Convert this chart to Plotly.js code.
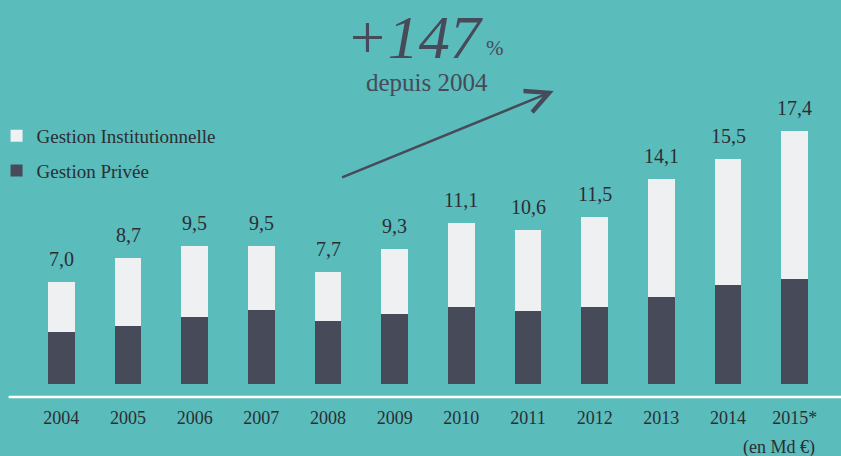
<!DOCTYPE html>
<html>
<head>
<meta charset="utf-8">
<script src="https://cdn.plot.ly/plotly-3.0.1.min.js"></script>
<style>html,body{margin:0;padding:0;background:#5bbcbc;}#chart{width:841px;height:456px;}</style>
</head>
<body>
<div id="chart"></div>
<script>
const years = ["2004","2005","2006","2007","2008","2009","2010","2011","2012","2013","2014","2015*"];
const gestionPrivee = [3.6, 4.0, 4.6, 5.1, 4.3, 4.8, 5.3, 5.0, 5.3, 6.0, 6.8, 7.2];
const gestionInstitutionnelle = [3.4, 4.7, 4.9, 4.4, 3.4, 4.5, 5.8, 5.6, 6.2, 8.1, 8.7, 10.2];
const totals = [7.0, 8.7, 9.5, 9.5, 7.7, 9.3, 11.1, 10.6, 11.5, 14.1, 15.5, 17.4];
const totalLabels = ["7,0","8,7","9,5","9,5","7,7","9,3","11,1","10,6","11,5","14,1","15,5","17,4"];

const SERIF = '"Liberation Serif", "Times New Roman", serif';
const DARK = '#474a58';
const LIGHT = '#eef0f1';
const TXT = '#2b2e33';

const traces = [
  {type:'bar', name:'Gestion Privée', x:years, y:gestionPrivee, marker:{color:DARK, line:{width:0}}, legendgroup:'p', legendrank:2, hoverinfo:'skip'},
  {type:'bar', name:'Gestion Institutionnelle', x:years, y:gestionInstitutionnelle, marker:{color:LIGHT, line:{width:0}}, legendgroup:'i', legendrank:1, hoverinfo:'skip'}
];

const L = 28.4, R = 827.6, T = 20, B = 397;
const px = v => (v - L) / (R - L);
const py = v => (B - v) / (B - T);
const PXU = 14.54;

const annotations = years.map((yr, i) => ({
  x: i, y: totals[i], xref:'x', yref:'y', text: totalLabels[i], showarrow:false,
  yanchor:'bottom', yshift: 10, font:{family:SERIF, size:20, color:TXT}
}));

annotations.push(
  {xref:'paper', yref:'paper', x:px(486), y:py(37), xanchor:'right', yanchor:'middle', showarrow:false,
   text:'<i>+147</i>', font:{family:SERIF, size:62, color:DARK}},
  {xref:'paper', yref:'paper', x:px(484), y:py(48), xanchor:'left', yanchor:'middle', showarrow:false,
   text:'%', font:{family:SERIF, size:21, color:DARK}},
  {xref:'paper', yref:'paper', x:px(427.5), y:py(82), xanchor:'center', yanchor:'middle', showarrow:false,
   text:'depuis 2004', font:{family:SERIF, size:25, color:DARK}},
  {xref:'paper', yref:'paper', x:px(553.5), y:py(91), ax:-213, ay:87, axref:'pixel', ayref:'pixel',
   text:'', showarrow:true, arrowhead:5, arrowsize:1.8, arrowwidth:2.5, arrowcolor:DARK, standoff:0},
  {xref:'paper', yref:'paper', x:px(817), y:py(447), xanchor:'right', yanchor:'middle', showarrow:false,
   text:'(en Md €)', font:{family:SERIF, size:18, color:TXT}}
);

const layout = {
  width:841, height:456,
  paper_bgcolor:'#5bbcbc', plot_bgcolor:'#5bbcbc',
  margin:{l:L, r:841-R, t:T, b:456-B, pad:0, autoexpand:false},
  barmode:'stack', bargap:0.6,
  font:{family:SERIF, color:TXT},
  showlegend:true,
  legend:{xref:'paper', yref:'paper', x:px(-3), y:py(117), xanchor:'left', yanchor:'top',
          traceorder:'grouped', tracegroupgap:7, bgcolor:'rgba(0,0,0,0)',
          font:{family:SERIF, size:19, color:TXT}},
  xaxis:{type:'category', range:[-0.5, 11.5], showgrid:false, zeroline:false, showline:false,
         ticks:'', tickfont:{family:SERIF, size:18, color:TXT}, ticklabelstandoff:8, fixedrange:true},
  yaxis:{range:[-13/PXU, (384-T)/PXU], visible:false, fixedrange:true},
  shapes:[{type:'line', xref:'paper', yref:'paper', x0:px(9), x1:px(841), y0:0, y1:0,
           line:{color:'#ffffff', width:2.5}, layer:'above'}],
  annotations: annotations
};

Plotly.newPlot('chart', traces, layout, {displayModeBar:false, staticPlot:true});
</script>
</body>
</html>
